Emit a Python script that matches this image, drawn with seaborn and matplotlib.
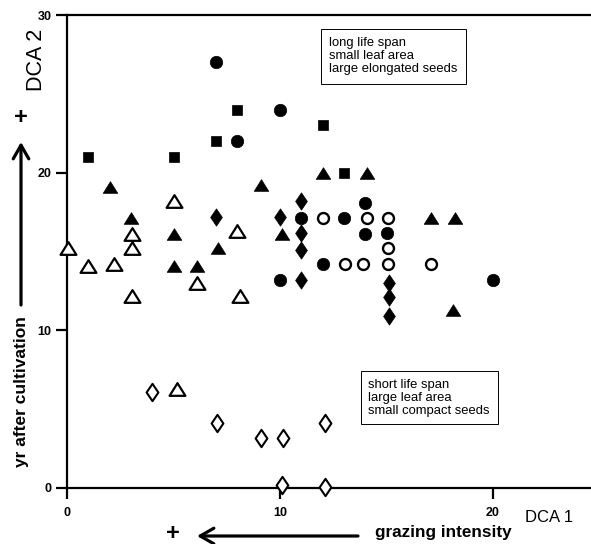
import numpy as np
import pandas as pd
import matplotlib
matplotlib.use("Agg")
import matplotlib.pyplot as plt
from matplotlib.path import Path
import seaborn as sns

# DCA 1 / DCA 2 site scores, one pair of lists per symbol
sq_x = [1, 5, 7, 8, 12, 13]
sq_y = [21, 21, 22, 24, 23, 20]

fc_x = [7, 8, 10, 10, 11, 12, 13, 14, 14, 15, 20]
fc_y = [27, 22, 24, 13.2, 17.1, 14.2, 17.1, 18.1, 16.1, 16.2, 13.2]

ft_x = [2, 3, 5, 5, 6.1, 7.1, 9.1, 10.1, 12, 14.1, 17.1, 18.2, 18.1]
ft_y = [19.1, 17.1, 16.1, 14.1, 14.1, 15.2, 19.2, 16.1, 20, 20, 17.1, 17.1, 11.3]

fd_x = [7, 10, 11, 11, 11, 11, 15.1, 15.1, 15.1]
fd_y = [17.2, 17.2, 18.2, 16.2, 15.1, 13.2, 13.0, 12.1, 10.9]

oc_x = [12, 13.05, 13.9, 14.1, 15.07, 15.07, 15.07, 17.1]
oc_y = [17.1, 14.2, 14.2, 17.1, 17.1, 15.25, 14.2, 14.2]

ot_x = [0.05, 1.0, 2.2, 3.05, 3.05, 3.05, 5.0, 6.1, 8.0, 8.1, 5.15]
ot_y = [15.2, 14.1, 14.2, 16.1, 15.25, 12.2, 18.2, 13.0, 16.3, 12.2, 6.3]

od_x = [4.0, 7.05, 9.1, 10.15, 10.1, 12.1, 12.1]
od_y = [6.1, 4.1, 3.2, 3.2, 0.2, 4.1, 0.06]

x_ticks = [0, 10, 20]
y_ticks = [0, 10, 20, 30]

upper_text = "long life span\nsmall leaf area\nlarge elongated seeds"
lower_text = "short life span\nlarge leaf area\nsmall compact seeds"

# custom marker shapes: wide triangle and narrow diamond
tri = Path([(0, 0.8), (-1, -0.8), (1, -0.8), (0, 0.8)],
           [Path.MOVETO, Path.LINETO, Path.LINETO, Path.CLOSEPOLY])
dia = Path([(0, 1), (0.68, 0), (0, -1), (-0.68, 0), (0, 1)],
           [Path.MOVETO, Path.LINETO, Path.LINETO, Path.LINETO, Path.CLOSEPOLY])

groups = [
    # x, y, marker, size, face, linewidth
    (sq_x, sq_y, "s", 58, "black", 0.5),
    (fc_x, fc_y, "o", 80, "black", 0.5),
    (ft_x, ft_y, tri, 110, "black", 0.5),
    (fd_x, fd_y, dia, 155, "black", 0.5),
    (oc_x, oc_y, "o", 62, "white", 1.7),
    (ot_x, ot_y, tri, 130, "white", 1.6),
    (od_x, od_y, dia, 155, "white", 1.5),
]

sns.set_style("ticks")
plt.rcParams["font.family"] = ["Liberation Sans", "DejaVu Sans"]
plt.rcParams["text.color"] = "black"
plt.rcParams["xtick.color"] = "black"
plt.rcParams["ytick.color"] = "black"

fig = plt.figure(figsize=(5.91, 5.44), dpi=100)
ax = fig.add_axes([67 / 591, 1 - 488 / 544, 1 - 67 / 591, (488 - 15) / 544])

for gx, gy, mk, size, face, lw in groups:
    df = pd.DataFrame({"x": gx, "y": gy})
    sns.scatterplot(data=df, x="x", y="y", ax=ax, marker=mk, s=size,
                    facecolor=face, edgecolor="black", linewidth=lw,
                    clip_on=False, zorder=4, legend=False)

ax.set_xlim(0, 24.6)
ax.set_ylim(0, 30)
ax.set_xticks(x_ticks)
ax.set_yticks(y_ticks)
ax.set_xlabel("")
ax.set_ylabel("")
for lab in ax.get_xticklabels() + ax.get_yticklabels():
    lab.set_fontweight("bold")
    lab.set_color("black")
ax.tick_params(axis="both", length=8, width=1.6, labelsize=9, color="black")
ax.tick_params(axis="y", pad=3)
ax.tick_params(axis="x", pad=6)
for side in ["left", "bottom", "top"]:
    ax.spines[side].set_linewidth(1.6)
    ax.spines[side].set_color("black")
ax.spines["right"].set_visible(False)

ax.text(12.3, 28.6, upper_text, ha="left", va="top", fontsize=9.4,
        linespacing=1.12,
        bbox=dict(boxstyle="square,pad=0.65", fc="white", ec="black", lw=0.7))
ax.text(14.15, 6.9, lower_text, ha="left", va="top", fontsize=9.4,
        linespacing=1.08,
        bbox=dict(boxstyle="square,pad=0.6", fc="white", ec="black", lw=0.7))

# axis titles and direction arrows in figure coordinates
fig.text(37 / 591, 1 - 60 / 544, "DCA 2", rotation=90, ha="center", va="center",
         fontsize=15.5)
fig.text(549 / 591, 1 - 517 / 544, "DCA 1", ha="center", va="center", fontsize=12)
fig.text(21 / 591, 1 - 118 / 544, "+", ha="center", va="center", fontsize=17,
         fontweight="bold")
fig.text(22 / 591, 1 - 392 / 544, "yr after cultivation", rotation=90,
         ha="center", va="center", fontsize=12.5, fontweight="bold")
fig.text(173 / 591, 1 - 534 / 544, "+", ha="center", va="center", fontsize=17,
         fontweight="bold")
fig.text(375 / 591, 1 - 533 / 544, "grazing intensity", ha="left", va="center",
         fontsize=12.3, fontweight="bold")

arrow = dict(arrowstyle="->,head_length=0.7,head_width=0.4", lw=2.3,
             color="black", shrinkA=0, shrinkB=0)
fig.add_artist(matplotlib.patches.FancyArrowPatch(
    (21 / 591, 1 - 305 / 544), (21 / 591, 1 - 142 / 544),
    transform=fig.transFigure, mutation_scale=14, **arrow))
fig.add_artist(matplotlib.patches.FancyArrowPatch(
    (358 / 591, 1 - 536 / 544), (197 / 591, 1 - 536 / 544),
    transform=fig.transFigure, mutation_scale=14, **arrow))

fig.savefig("out.png", dpi=100)
